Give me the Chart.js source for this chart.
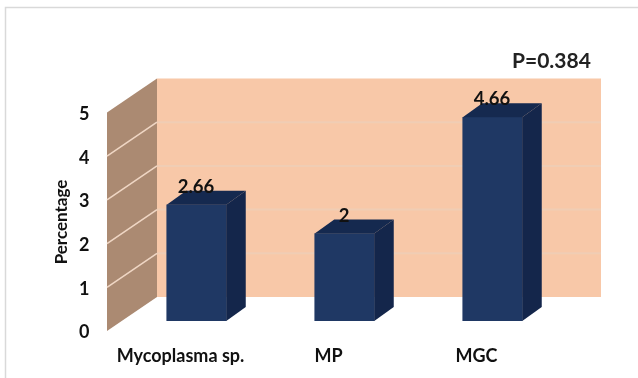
<!DOCTYPE html>
<html>
<head>
<meta charset="utf-8">
<style>
  html, body { margin: 0; padding: 0; background: #fff; }
  #wrap { position: relative; width: 638px; height: 378px; }
</style>
</head>
<body>
<div id="wrap"><canvas id="grafico" width="638" height="378"></canvas></div>
<script src="https://cdn.jsdelivr.net/npm/chart.js@4/dist/chart.umd.min.js"></script>
<script>
const categorias = ["Mycoplasma sp.", "MP", "MGC"];
const valores = [2.66, 2, 4.66];
const rotuloValor = ["2.66", "2", "4.66"];
const eixoTitulo = "Percentage";
const anotacaoP = "P=0.384";

const fonte = "Lato, sans-serif";

// back wall and side wall of the 3D box, built from the axis scales
const caixa3d = {
  id: "caixa3d",
  beforeDatasetsDraw(chart) {
    const { ctx, scales: { x, y } } = chart;
    const esq = x.left, dir = x.right, topo = y.top, base = y.bottom;
    const fundoX = 34.5, fundoY = -24;
    const frenteX = -15.5, frenteY = 10;

    ctx.save();
    ctx.fillStyle = "#F8C8A8";
    ctx.fillRect(esq + fundoX, topo + fundoY, dir - esq, base - topo);

    ctx.fillStyle = "#AB8A72";
    ctx.beginPath();
    ctx.moveTo(esq + frenteX, topo + frenteY);
    ctx.lineTo(esq + fundoX, topo + fundoY);
    ctx.lineTo(esq + fundoX, base + fundoY);
    ctx.lineTo(esq + frenteX, base + frenteY);
    ctx.closePath();
    ctx.fill();

    y.ticks.forEach(t => {
      if (t.value === 0 || t.value === 5) return;
      const py = y.getPixelForValue(t.value);
      ctx.strokeStyle = "#EFD6C4";
      ctx.lineWidth = 1.6;
      ctx.beginPath();
      ctx.moveTo(esq + frenteX, py + frenteY);
      ctx.lineTo(esq + fundoX, py + fundoY);
      ctx.stroke();
      ctx.strokeStyle = "#F0CDB4";
      ctx.lineWidth = 2;
      ctx.beginPath();
      ctx.moveTo(esq + fundoX, py + fundoY);
      ctx.lineTo(dir + fundoX, py + fundoY);
      ctx.stroke();
    });
    ctx.restore();
  },
  afterDatasetsDraw(chart) {
    const { ctx, chartArea } = chart;
    const prof = 19.5, sobe = -14;
    ctx.save();
    chart.getDatasetMeta(0).data.forEach((bar, i) => {
      const l = bar.x - bar.width / 2, r = bar.x + bar.width / 2;
      const t = bar.y, b = bar.base;

      ctx.fillStyle = "#14264B";
      ctx.beginPath();
      ctx.moveTo(r, t);
      ctx.lineTo(r + prof, t + sobe);
      ctx.lineTo(r + prof, b + sobe);
      ctx.lineTo(r, b);
      ctx.closePath();
      ctx.fill();

      ctx.fillStyle = "#15294F";
      ctx.beginPath();
      ctx.moveTo(l, t);
      ctx.lineTo(l + prof, t + sobe);
      ctx.lineTo(r + prof, t + sobe);
      ctx.lineTo(r, t);
      ctx.closePath();
      ctx.fill();

      ctx.fillStyle = "#111";
      ctx.font = "bold 18.5px " + fonte;
      ctx.textAlign = "center";
      ctx.textBaseline = "middle";
      ctx.fillText(rotuloValor[i], bar.x - 0.5, t - 18);
    });

    ctx.fillStyle = "#222";
    ctx.font = "bold 21px " + fonte;
    ctx.textAlign = "left";
    ctx.textBaseline = "middle";
    ctx.fillText(anotacaoP, 512, 61);

    ctx.translate(62, chartArea.top + 119.5);
    ctx.rotate(-Math.PI / 2);
    ctx.fillStyle = "#111";
    ctx.font = "bold 17px " + fonte;
    ctx.textAlign = "center";
    ctx.fillText(eixoTitulo, 0, 0);
    ctx.restore();
  },
  beforeDraw(chart) {
    const { ctx } = chart;
    ctx.save();
    ctx.strokeStyle = "#D9D9D9";
    ctx.lineWidth = 1.5;
    ctx.beginPath();
    ctx.moveTo(5.5, 378);
    ctx.lineTo(5.5, 7.5);
    ctx.lineTo(638, 7.5);
    ctx.stroke();
    ctx.restore();
  }
};

new Chart(document.getElementById("grafico"), {
  type: "bar",
  data: {
    labels: categorias,
    datasets: [{
      data: valores,
      backgroundColor: "#1F3864",
      barThickness: 59.5
    }]
  },
  options: {
    responsive: false,
    animation: false,
    layout: { padding: { left: 0, right: 71.5, top: 102.5, bottom: 0 } },
    plugins: { legend: { display: false }, tooltip: { enabled: false } },
    scales: {
      x: {
        grid: { display: false },
        border: { display: false },
        afterFit(s) { s.height = 57; },
        ticks: {
          color: "#111",
          padding: 16,
          labelOffset: -16,
          maxRotation: 0,
          font: { family: fonte, size: 18, weight: "bold" }
        }
      },
      y: {
        min: 0,
        max: 5,
        grid: { display: false, drawTicks: false },
        border: { display: false },
        afterFit(s) { s.width = 122.5; },
        ticks: {
          stepSize: 1,
          color: "#111",
          padding: 33,
          labelOffset: 11.5,
          font: { family: fonte, size: 18, weight: "bold" }
        }
      }
    }
  },
  plugins: [caixa3d]
});
</script>
</body>
</html>
